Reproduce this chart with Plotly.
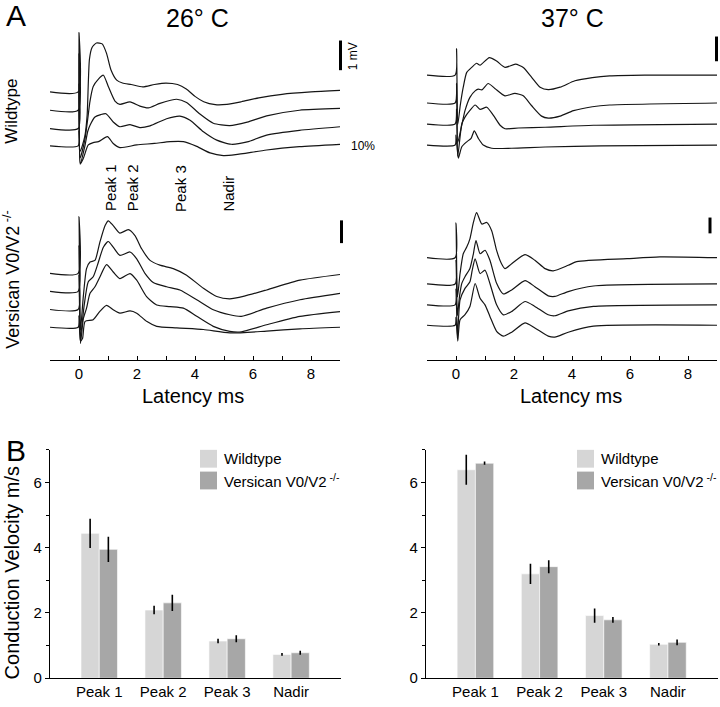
import plotly.graph_objects as go

# ---------------- DATA ----------------
# Panel A traces: latency (ms) and voltage (mV, relative to each trace's own baseline)
# Wildtype 26 C (4 traces, top to bottom)
wt26_t = [
    [-1, -0.03, 0.0, 0.04, 0.2, 0.28, 0.36, 0.45, 0.6, 0.8, 0.95, 1.1, 1.3, 1.5, 1.8, 2.2, 2.6, 3.0, 3.4, 3.7, 4.0, 4.3, 4.7, 5.1, 5.6, 6.2, 7.0, 8.0, 9.0],
    [-1, -0.03, 0.0, 0.04, 0.2, 0.3, 0.38, 0.49, 0.67, 0.84, 1.01, 1.24, 1.41, 1.76, 2.1, 2.39, 2.79, 3.37, 3.71, 4.17, 4.63, 5.2, 5.8, 6.47, 7.6, 9.0],
    [-1, -0.03, 0.0, 0.04, 0.2, 0.3, 0.38, 0.55, 0.75, 0.93, 1.18, 1.41, 1.76, 2.1, 2.45, 3.02, 3.48, 3.83, 4.29, 4.75, 5.25, 5.8, 6.47, 7.6, 9.0],
    [-1, -0.03, 0.0, 0.05, 0.15, 0.32, 0.49, 0.67, 0.98, 1.18, 1.41, 1.99, 2.6, 3.14, 3.6, 4.06, 4.52, 4.98, 5.4, 6.47, 7.6, 9.0],
]
wt26_v = [
    [0, 0, 2.0, -2.0, -1.5, -0.8, 1.1, 1.5, 1.65, 1.62, 1.3, 0.75, 0.4, 0.3, 0.25, 0.17, 0.25, 0.3, 0.25, 0.1, -0.15, -0.33, -0.43, -0.42, -0.33, -0.2, -0.08, 0.0, 0.05],
    [0, 0, 1.9, -1.6, -1.0, -0.3, 0.31, 0.8, 1.05, 1.18, 0.8, 0.31, 0.2, 0.28, 0.14, 0.08, 0.23, 0.37, 0.26, -0.13, -0.44, -0.52, -0.4, -0.19, 0.0, 0.06],
    [0, 0, 1.5, -1.2, -0.6, -0.1, 0.11, 0.39, 0.47, 0.5, 0.22, 0.06, 0.13, 0.03, 0.09, 0.33, 0.42, 0.28, -0.11, -0.39, -0.53, -0.45, -0.22, -0.06, 0.06],
    [0, 0, 0.5, -0.6, -0.42, 0.03, 0.11, 0.14, 0.31, 0.08, -0.06, 0.03, 0.08, 0.14, 0.14, -0.02, -0.24, -0.33, -0.3, -0.14, -0.03, 0.05],
]
# Wildtype 37 C
wt37_t = [
    [-1, -0.03, 0.02, 0.06, 0.15, 0.25, 0.37, 0.54, 0.71, 0.83, 1.15, 1.4, 1.69, 2.05, 2.32, 2.61, 2.9, 3.18, 3.59, 4.1, 4.7, 5.3, 6.5, 9.0],
    [-1, -0.03, 0.02, 0.06, 0.18, 0.31, 0.48, 0.66, 0.77, 0.89, 1.11, 1.34, 1.69, 2.03, 2.32, 2.61, 2.95, 3.18, 3.59, 4.05, 4.7, 5.3, 9.0],
    [-1, -0.03, 0.02, 0.06, 0.2, 0.31, 0.48, 0.66, 0.83, 1.06, 1.29, 1.52, 1.69, 2.15, 3.07, 4.74, 9.0],
    [-1, -0.03, 0.0, 0.08, 0.2, 0.37, 0.52, 0.63, 0.77, 0.94, 1.23, 1.92, 3.07, 5.0, 9.0],
]
wt37_v = [
    [0, 0, 1.07, -2.0, -1.2, -0.49, 0.11, 0.31, 0.48, 0.4, 0.71, 0.57, 0.31, 0.44, 0.31, -0.09, -0.49, -0.59, -0.49, -0.23, -0.1, -0.03, 0.0, 0.0],
    [0, 0, 0.8, -1.6, -1.0, -0.31, 0.23, 0.49, 0.56, 0.53, 0.79, 0.59, 0.29, 0.39, 0.29, -0.11, -0.53, -0.61, -0.53, -0.31, -0.15, -0.08, 0.0],
    [0, 0, 0.6, -1.3, 0.0, 0.28, 0.55, 0.77, 0.59, 0.68, 0.35, -0.05, -0.19, -0.16, -0.13, -0.05, 0.0],
    [0, 0, 0.4, -0.53, -0.07, 0.13, 0.27, 0.57, 0.27, 0.0, -0.13, -0.13, -0.08, -0.03, 0.0],
]
# Versican V0/V2 -/- 26 C
vc26_t = [
    [-1, -0.03, 0.0, 0.05, 0.15, 0.26, 0.38, 0.55, 0.72, 0.9, 1.01, 1.18, 1.41, 1.7, 1.93, 2.16, 2.45, 2.79, 3.25, 3.71, 4.29, 4.75, 5.2, 5.7, 6.47, 7.62, 9.0],
    [-1, -0.03, 0.0, 0.05, 0.18, 0.32, 0.49, 0.67, 0.84, 1.01, 1.18, 1.41, 1.76, 1.99, 2.28, 2.56, 3.02, 3.48, 4.06, 4.63, 5.2, 5.6, 6.47, 7.62, 9.0],
    [-1, -0.03, 0.0, 0.05, 0.15, 0.26, 0.38, 0.55, 0.72, 0.95, 1.18, 1.41, 1.76, 1.99, 2.33, 2.68, 3.14, 3.6, 4.06, 4.63, 5.2, 5.6, 6.47, 7.62, 9.0],
    [-1, -0.03, 0.0, 0.05, 0.12, 0.21, 0.49, 0.72, 0.95, 1.18, 1.41, 1.76, 1.99, 2.33, 2.68, 3.37, 4.29, 5.2, 6.47, 7.62, 9.0],
]
vc26_v = [
    [0, 0, 2.5, -2.5, -1.0, 0.21, 0.5, 0.57, 1.37, 2.1, 2.31, 2.1, 1.77, 1.92, 1.66, 1.08, 0.57, 0.36, 0.21, -0.08, -0.66, -1.02, -1.12, -1.0, -0.73, -0.3, -0.05],
    [0, 0, 2.0, -2.0, -0.6, 0.42, 0.64, 1.29, 1.94, 2.19, 1.94, 1.58, 1.73, 1.43, 0.78, 0.39, 0.2, 0.06, -0.37, -0.81, -1.03, -1.1, -0.74, -0.37, -0.09],
    [0, 0, 1.5, -1.5, -0.4, 0.06, 0.71, 1.0, 1.43, 1.97, 1.65, 1.36, 1.58, 1.29, 0.57, 0.2, 0.13, 0.06, -0.3, -0.74, -0.96, -0.98, -0.67, -0.3, -0.09],
    [0, 0, 0.5, -0.6, -0.5, 0.26, 0.33, 0.7, 0.96, 0.77, 0.62, 0.72, 0.62, 0.26, 0.04, -0.03, -0.1, -0.25, -0.17, -0.07, 0.0],
]
# Versican V0/V2 -/- 37 C
vc37_t = [
    [-1, -0.03, 0.0, 0.05, 0.14, 0.25, 0.37, 0.48, 0.6, 0.71, 0.89, 1.06, 1.23, 1.4, 1.57, 1.69, 1.92, 2.38, 2.72, 3.07, 3.35, 3.87, 4.16, 5.9, 7.03, 9.0],
    [-1, -0.03, 0.0, 0.05, 0.12, 0.2, 0.31, 0.48, 0.6, 0.69, 0.83, 1.0, 1.17, 1.4, 1.63, 1.92, 2.38, 2.72, 3.18, 3.41, 3.87, 4.74, 9.0],
    [-1, -0.03, 0.0, 0.05, 0.14, 0.31, 0.48, 0.56, 0.66, 0.83, 1.0, 1.17, 1.4, 1.63, 1.92, 2.38, 2.72, 3.18, 3.41, 3.87, 4.74, 9.0],
    [-1, -0.03, 0.0, 0.06, 0.14, 0.31, 0.48, 0.66, 0.83, 1.0, 1.17, 1.4, 1.63, 1.92, 2.38, 2.72, 3.18, 3.41, 3.87, 4.74, 9.0],
]
vc37_v = [
    [0, 0, 2.2, -2.5, -1.0, 0.25, 0.67, 1.19, 2.23, 2.86, 2.13, 2.23, 1.71, 0.46, -0.38, -0.69, -0.38, 0.19, -0.16, -0.69, -0.83, -0.48, -0.25, -0.06, 0.05, 0.0],
    [0, 0, 1.5, -2.0, -0.8, 0.04, 0.46, 0.98, 1.91, 2.75, 1.91, 2.13, 1.5, 0.04, -0.63, -0.38, 0.21, -0.17, -0.75, -0.79, -0.48, -0.13, 0.0],
    [0, 0, 1.0, -2.0, 0.31, 1.04, 1.46, 2.19, 2.91, 1.98, 2.19, 1.35, 0.0, -0.63, -0.42, 0.21, -0.1, -0.63, -0.69, -0.38, -0.1, 0.0],
    [0, 0, 0.5, -1.0, 0.35, 0.67, 1.19, 2.64, 1.71, 1.29, 0.56, -0.38, -0.69, -0.44, 0.15, -0.17, -0.69, -0.75, -0.44, -0.06, 0.0],
]
latency_ticks = [0, 2, 4, 6, 8]
peak_labels = ["Peak 1", "Peak 2", "Peak 3", "Nadir"]
peak_label_latency = [1.07, 1.83, 3.48, 5.14]
scale_bar_mV = 1.0

# Panel B: conduction velocity (m/s)
categories = ["Peak 1", "Peak 2", "Peak 3", "Nadir"]
series_names = ["Wildtype", "Versican V0/V2<sup> -/-</sup>"]
cv26_wt = [4.44, 2.09, 1.14, 0.73]
cv26_wt_err = [0.45, 0.13, 0.07, 0.04]
cv26_vc = [3.95, 2.31, 1.21, 0.78]
cv26_vc_err = [0.39, 0.25, 0.11, 0.06]
cv37_wt = [6.39, 3.20, 1.92, 1.04]
cv37_wt_err = [0.46, 0.31, 0.22, 0.04]
cv37_vc = [6.59, 3.42, 1.79, 1.10]
cv37_vc_err = [0.05, 0.20, 0.09, 0.09]

# ---------------- LAYOUT HELPERS ----------------
W, H = 720, 707
def fx(px):
    return px / W
def fy(py):
    return 1 - py / H

FONT = "Liberation Sans, Arial, Helvetica, sans-serif"
INK = "#151515"
LIGHT = "#d6d6d6"
DARK = "#a7a7a7"

# trace panels: (axis suffix, data, x px domain, y px domain, y range, trace offsets, scale bar y0, scale bar x px)
panels = [
    ("", wt26_t, wt26_v, (50, 340), (25, 175), (-0.917, 4.083), [1.817, 1.2, 0.583, 0], 2.55, 340.5),
    ("2", wt37_t, wt37_v, (427, 717), (25, 175), (-1.132, 4.868), [2.83, 1.7, 0.85, 0], 3.39, 716.5),
    ("3", vc26_t, vc26_v, (50, 340), (205, 364), (-1.435, 5.478), [2.37, 1.58, 0.78, 0], 3.70, 341.5),
    ("4", vc37_t, vc37_v, (427, 717), (205, 364), (-2.19, 7.75), [4.27, 2.61, 1.29, 0], 5.81, 710),
]

fig = go.Figure()
layout = dict(
    width=W, height=H, margin=dict(l=0, r=0, t=0, b=0),
    paper_bgcolor="white", plot_bgcolor="white", showlegend=False,
    font=dict(family=FONT, color="black"),
    barmode="group", bargap=0.43, bargroupgap=0.0,
)
shapes = []
annotations = []

for suf, ts, vs, xd, yd, yr, offs, sb0, sbx in panels:
    xa = "x" + suf
    ya = "y" + suf
    for t, v, o in zip(ts, vs, offs):
        fig.add_trace(go.Scatter(
            x=t, y=[vi + o for vi in v], mode="lines", xaxis=xa, yaxis=ya,
            line=dict(color=INK, width=1.2, shape="spline", smoothing=0.6),
            hoverinfo="skip"))
    xkey = "xaxis" + suf
    ykey = "yaxis" + suf
    bottom = suf in ("3", "4")
    xcfg = dict(domain=[fx(xd[0]), fx(xd[1])], range=[-1, 9], anchor=ya,
                showgrid=False, zeroline=False, fixedrange=True)
    if bottom:
        xcfg.update(showline=True, linecolor="black", linewidth=1.3,
                    ticks="inside", ticklen=4, tickwidth=1, tickcolor="black",
                    tickmode="array", tickvals=latency_ticks,
                    minor=dict(ticks="inside", ticklen=4, dtick=1, tick0=-1,
                               tickcolor="black", showgrid=False),
                    tickfont=dict(size=15, family=FONT, color="black"))
    else:
        xcfg.update(visible=False)
    layout[xkey] = xcfg
    layout[ykey] = dict(domain=[fy(yd[1]), fy(yd[0])], range=list(yr), anchor=xa,
                        visible=False, fixedrange=True)
    # 1 mV scale bar (converted from mV to paper coordinates of this panel)
    d0, d1 = fy(yd[1]), fy(yd[0])
    def to_paper(v, d0=d0, d1=d1, yr=yr):
        return d0 + (v - yr[0]) / (yr[1] - yr[0]) * (d1 - d0)
    shapes.append(dict(type="line", xref="paper", yref="paper",
                       x0=fx(sbx), x1=fx(sbx), y0=to_paper(sb0), y1=to_paper(sb0 + scale_bar_mV),
                       line=dict(color="black", width=3)))

# bar panels
bar_panels = [
    ("5", (50, 341), cv26_wt, cv26_wt_err, cv26_vc, cv26_vc_err, 200),
    ("6", (426, 718), cv37_wt, cv37_wt_err, cv37_vc, cv37_vc_err, 577),
]
for suf, xd, wt, wte, vc, vce, legx in bar_panels:
    xa = "x" + suf
    ya = "y" + suf
    for vals, errs, col, nm in ((wt, wte, LIGHT, series_names[0]), (vc, vce, DARK, series_names[1])):
        fig.add_trace(go.Bar(
            x=categories, y=vals, name=nm, xaxis=xa, yaxis=ya,
            marker=dict(color=col, line=dict(color="white", width=0.6)),
            error_y=dict(type="data", array=errs, visible=True, color="black",
                         thickness=1.6, width=0),
            hoverinfo="skip"))
    layout["xaxis" + suf] = dict(domain=[fx(xd[0]), fx(xd[1])], range=[-0.77, 3.78],
                                 anchor=ya, showline=True, linecolor="black", linewidth=1.3,
                                 ticks="", showgrid=False, zeroline=False, fixedrange=True,
                                 tickfont=dict(size=15, family=FONT, color="black"))
    layout["yaxis" + suf] = dict(domain=[fy(686), fy(455)], range=[0, 7], anchor=xa,
                                 showline=True, linecolor="black", linewidth=1.3,
                                 ticks="outside", ticklen=4, tickcolor="black",
                                 tickvals=[0, 2, 4, 6], showgrid=False, zeroline=False,
                                 fixedrange=True,
                                 minor=dict(ticks="outside", ticklen=3, dtick=1, tick0=0,
                                            tickcolor="black", showgrid=False),
                                 tickfont=dict(size=15, family=FONT, color="black"))
    # legend
    for i, (col, nm) in enumerate(((LIGHT, series_names[0]), (DARK, series_names[1]))):
        y0 = 455 + i * 22
        shapes.append(dict(type="rect", xref="paper", yref="paper",
                           x0=fx(legx), x1=fx(legx + 17), y0=fy(y0 + 18), y1=fy(y0),
                           fillcolor=col, line=dict(width=0)))
        annotations.append(dict(xref="paper", yref="paper", x=fx(legx + 22), y=fy(y0 + 9),
                                text=nm, showarrow=False, xanchor="left", yanchor="middle",
                                font=dict(size=15, family=FONT, color="black")))

def txt(text, px, py, size, angle=0, xa="center", ya="middle"):
    annotations.append(dict(xref="paper", yref="paper", x=fx(px), y=fy(py), text=text,
                            showarrow=False, textangle=angle, xanchor=xa, yanchor=ya,
                            font=dict(size=size, family=FONT, color="black")))

txt("A", 4, 16, 30, xa="left")
txt("B", 4, 456, 30, xa="left")
txt("26° C", 197, 18, 25)
txt("37° C", 572, 18, 25)
txt("Wildtype", 12, 113, 17, angle=-90)
txt("Versican V0/V2<sup> -/-</sup>", 12, 283, 18, angle=-90)
txt("1 mV", 353, 57, 12, angle=-90)
txt("10%", 349, 148, 12, xa="left")
txt("Latency ms", 193, 401, 20)
txt("Latency ms", 571, 401, 20)
txt("Conduction Velocity m/s", 12, 580, 20, angle=-90)

for lab, t in zip(peak_labels, peak_label_latency):
    annotations.append(dict(xref="x3", yref="paper", x=t, y=fy(216), text=lab,
                            showarrow=False, textangle=-90, xanchor="center", yanchor="bottom",
                            font=dict(size=15, family=FONT, color="black")))

layout["shapes"] = shapes
layout["annotations"] = annotations
fig.update_layout(**layout)
fig.write_html("out.html", config={"displayModeBar": False},
               post_script="document.body.style.margin='0px';")
